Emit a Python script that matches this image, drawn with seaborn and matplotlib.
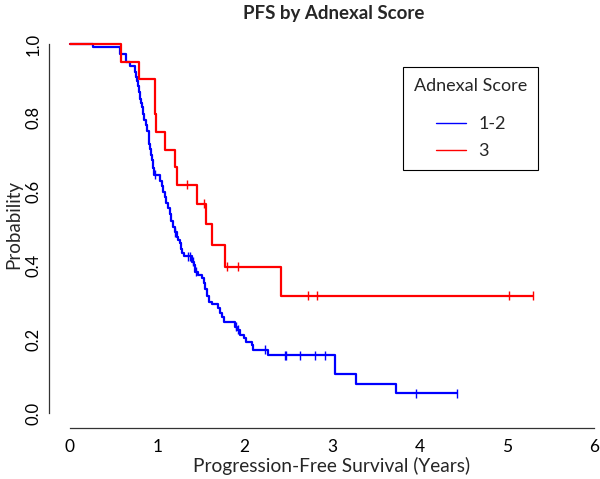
import numpy as np
import pandas as pd
import seaborn as sns
import matplotlib.pyplot as plt
from matplotlib.lines import Line2D

# Kaplan-Meier steps (time in years, survival after the drop)
blue_times = [0, 0.26, 0.57, 0.64, 0.69, 0.74, 0.76, 0.77, 0.78, 0.79, 0.80, 0.81, 0.82,
              0.84, 0.85, 0.87, 0.88, 0.90, 0.91, 0.92, 0.93, 0.94, 0.95, 0.96, 1.03,
              1.05, 1.07, 1.09, 1.10, 1.12, 1.14, 1.16, 1.18, 1.20, 1.22, 1.24, 1.26,
              1.27, 1.28, 1.30, 1.40, 1.42, 1.43, 1.47, 1.51, 1.53, 1.55, 1.57, 1.59,
              1.63, 1.70, 1.72, 1.74, 1.76, 1.89, 1.91, 1.95, 1.99, 2.01, 2.08, 2.10,
              2.27, 3.04, 3.27, 3.73]
blue_surv = [1.0, 0.992, 0.973, 0.952, 0.941, 0.925, 0.911, 0.90, 0.885, 0.87, 0.85, 0.84, 0.83,
             0.81, 0.795, 0.78, 0.765, 0.745, 0.73, 0.715, 0.70, 0.685, 0.665, 0.645, 0.63,
             0.615, 0.60, 0.585, 0.57, 0.555, 0.54, 0.52, 0.505, 0.49, 0.478, 0.469, 0.46,
             0.445, 0.433, 0.425, 0.41, 0.40, 0.383, 0.375, 0.366, 0.352, 0.335, 0.318, 0.302,
             0.295, 0.285, 0.272, 0.26, 0.247, 0.234, 0.225, 0.211, 0.204, 0.193, 0.184, 0.171,
             0.157, 0.105, 0.079, 0.054]
blue_censor = [0.97, 1.20, 1.35, 1.38, 1.41, 1.44, 1.90, 1.92, 2.23, 2.46, 2.47,
               2.63, 2.81, 2.92, 3.96, 4.43]

red_times = [0, 0.58, 0.79, 0.97, 0.99, 1.09, 1.20, 1.23, 1.46, 1.56, 1.63, 1.78, 2.42]
red_surv = [1.0, 0.952, 0.905, 0.810, 0.762, 0.714, 0.667, 0.619, 0.567, 0.511, 0.454,
            0.397, 0.318]
red_censor = [1.34, 1.53, 1.80, 1.92, 2.73, 2.83, 5.03, 5.30]

groups = ['1-2', '3']
colors = {'1-2': '#0000FF', '3': '#FF0000'}

steps, marks = [], []
for g, t, s, c in zip(groups, (blue_times, red_times), (blue_surv, red_surv),
                      (blue_censor, red_censor)):
    t, s, c = np.array(t), np.array(s), np.array(c)
    # extend the last level to the last follow-up time
    steps.append(pd.DataFrame({'time': np.append(t, c.max()),
                               'surv': np.append(s, s[-1]), 'group': g}))
    idx = np.searchsorted(t, c, side='right') - 1
    marks.append(pd.DataFrame({'time': c, 'surv': s[idx], 'group': g}))
steps = pd.concat(steps, ignore_index=True)
marks = pd.concat(marks, ignore_index=True)

sns.set_theme(style='white')
plt.rcParams['font.family'] = ['Lato', 'DejaVu Sans']

fig = plt.figure(figsize=(6, 4.79), dpi=100)
ax = fig.add_axes([49 / 600, (479 - 427.8) / 479, 566 / 600, (427.8 - 29.2) / 479])

sns.lineplot(data=steps, x='time', y='surv', hue='group', palette=colors,
             drawstyle='steps-post', estimator=None, legend=False, lw=1.6, ax=ax)
sns.scatterplot(data=marks, x='time', y='surv', hue='group', palette=colors,
                marker='|', s=42, linewidth=1.0, legend=False, ax=ax)

ax.set_xlim(-0.24, 6.24)
ax.set_ylim(-0.04, 1.04)
ax.set_xticks(range(7))
ax.set_yticks([0, 0.2, 0.4, 0.6, 0.8, 1.0])
ax.set_yticklabels(['0.0', '0.2', '0.4', '0.6', '0.8', '1.0'], rotation=90, va='center')
for side in ('top', 'right'):
    ax.spines[side].set_visible(False)
ax.spines['left'].set_bounds(0, 1)
ax.spines['bottom'].set_bounds(0, 6)
for side in ('left', 'bottom'):
    ax.spines[side].set_color('#333333')
    ax.spines[side].set_linewidth(0.9)
ax.tick_params(direction='out', length=5.5, width=0.9, color='#333333',
               labelsize=12.5, labelcolor='black', pad=2.5)
ax.tick_params(axis='y', labelsize=12, pad=0)

ax.set_xlabel('Progression-Free Survival (Years)', fontsize=13.8)
ax.set_ylabel('Probability', fontsize=13.5)
ax.xaxis.set_label_coords(0.5, (427.8 - 466) / 398.6)
ax.xaxis.label.set_va('center')
ax.yaxis.set_label_coords((14 - 49) / 566, 0.51)
ax.yaxis.label.set_va('center')

fig.text(334 / 600, 1 - 13 / 479, 'PFS by Adnexal Score', ha='center', va='center',
         fontsize=13.5, fontweight='bold')

handles = [Line2D([], [], color=colors[g], lw=1) for g in groups]
leg = ax.legend(handles, groups, title='Adnexal Score', loc='upper left',
                bbox_to_anchor=(403 / 600, 1 - 67 / 479), bbox_transform=fig.transFigure,
                borderaxespad=0, fancybox=False, framealpha=1, edgecolor='black',
                fontsize=13, title_fontsize=13, handlelength=1.7, handletextpad=0.65,
                labelspacing=0.6, borderpad=0.5)
leg.get_frame().set_linewidth(0.8)
leg._legend_box.sep = 16
leg._legend_box.pad = 8

fig.savefig('out.png', dpi=100)
